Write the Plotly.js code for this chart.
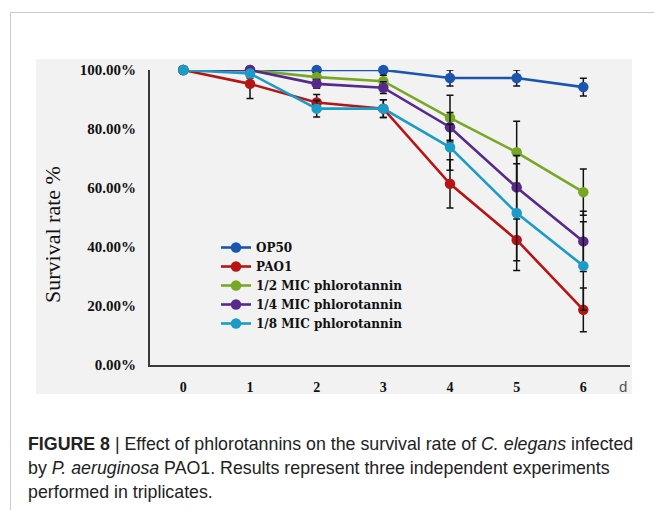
<!DOCTYPE html>
<html>
<head>
<meta charset="utf-8">
<script src="https://cdn.plot.ly/plotly-3.0.1.min.js"></script>
<style>
html,body{margin:0;padding:0;background:#fff;}
#wrap{position:relative;width:654px;height:510px;overflow:hidden;}
#chart{position:absolute;left:0;top:0;width:654px;height:510px;}
#frame{position:absolute;left:10px;top:12px;width:660px;height:520px;border-top:1.5px solid #c8c8c8;border-left:1.5px solid #c8c8c8;pointer-events:none;}
</style>
</head>
<body>
<div id="wrap"><div id="chart"></div><div id="frame"></div></div>
<script>
// Data (survival rate %, days 0-6)
const days = [0, 1, 2, 3, 4, 5, 6];
const dayLabels = ["0", "1", "2", "3", "4", "5", "6"];
const seriesNames = ["OP50", "PAO1", "1/2 MIC phlorotannin", "1/4 MIC phlorotannin", "1/8 MIC phlorotannin"];
const op50 = [100, 100, 100, 100, 97.3, 97.3, 94.2];
const op50Err = [0, 0, 0, 0, 2.7, 2.7, 3.0];
const pao1 = [100, 95.3, 89.0, 86.9, 61.4, 42.4, 18.7];
const pao1Err = [0, 5.0, 2.7, 3.0, 8.2, 7.1, 7.4];
const mic2 = [100, 100, 97.6, 96.2, 83.8, 72.1, 58.6];
const mic2Err = [0, 0, 1.5, 2.0, 7.6, 10.5, 7.8];
const mic4 = [100, 100, 95.3, 94.0, 80.6, 60.2, 41.9];
const mic4Err = [0, 0, 1.5, 2.0, 5.0, 8.0, 10.2];
const mic8 = [100, 98.8, 86.9, 86.9, 73.8, 51.5, 33.6];
const mic8Err = [0, 1.5, 2.8, 3.0, 7.8, 19.5, 15.0];
const yTickVals = [0, 20, 40, 60, 80, 100];
const yTickText = ["0.00%", "20.00%", "40.00%", "60.00%", "80.00%", "100.00%"];
const yTitle = "Survival rate %";
const xUnit = "d";
const captionLines = [
  "<b>FIGURE 8</b> | Effect of phlorotannins on the survival rate of <i>C. elegans</i> infected",
  "by <i>P. aeruginosa</i> PAO1. Results represent three independent experiments",
  "performed in triplicates."
];

const colors = ["#1a56b0", "#b81414", "#76a824", "#57298a", "#1b9cc7"];
const ys = [op50, pao1, mic2, mic4, mic8];
const errs = [op50Err, pao1Err, mic2Err, mic4Err, mic8Err];

const traces = ys.map((y, i) => ({
  type: "scatter",
  mode: "lines+markers",
  name: seriesNames[i],
  x: days,
  y: y,
  line: {color: colors[i], width: 2.6},
  marker: {color: colors[i], size: 10.5},
  error_y: {type: "data", array: errs[i], visible: true, color: "#111", thickness: 1.5, width: 3.5},
  cliponaxis: false
}));

// pixel helpers for paper coords (plot area: x 150..630, y 70..365)
const L = 150, R = 630, T = 70, B = 365;
const px = v => (v - L) / (R - L);
const py = v => (B - v) / (B - T);

const serif = "Liberation Serif, Times New Roman, serif";
const annotations = [
  {xref: "paper", yref: "paper", x: px(52), y: py(235), xanchor: "center", yanchor: "middle",
   text: yTitle, textangle: -90, showarrow: false,
   font: {family: serif, size: 22, color: "#111"}},
  {xref: "paper", yref: "paper", x: px(623), y: py(386), xanchor: "center", yanchor: "middle",
   text: xUnit, showarrow: false,
   font: {family: "Liberation Sans, Arial, sans-serif", size: 15, color: "#555"}}
];
const capY = [444, 468, 492];
captionLines.forEach((t, i) => annotations.push({
  xref: "paper", yref: "paper", x: px(26), y: py(capY[i]), xanchor: "left", yanchor: "middle",
  text: t, showarrow: false, align: "left",
  font: {family: "Liberation Sans, Arial, sans-serif", size: 17.8, color: "#222"}
}));

const layout = {
  width: 654, height: 510,
  margin: {l: L, r: 654 - R, t: T, b: 510 - B, pad: 0},
  paper_bgcolor: "#ffffff",
  plot_bgcolor: "rgba(0,0,0,0)",
  showlegend: true,
  legend: {x: px(216), y: py(233), xanchor: "left", yanchor: "top", bgcolor: "rgba(0,0,0,0)",
    font: {family: "DejaVu Serif, serif", size: 12, color: "#111", weight: "bold"},
    tracegroupgap: 0, itemwidth: 30},
  xaxis: {range: [-0.5, 6.7], tickvals: days, ticktext: dayLabels, showgrid: false, zeroline: false,
    showline: true, linecolor: "#3a3a3a", linewidth: 2, ticks: "", ticklabelstandoff: 8,
    tickfont: {family: serif, size: 14, color: "#111", weight: "bold"}},
  yaxis: {range: [0, 100], tickvals: yTickVals, ticktext: yTickText, showgrid: false, zeroline: false,
    showline: true, linecolor: "#3a3a3a", linewidth: 2, ticks: "", ticklabelstandoff: 9,
    tickfont: {family: serif, size: 15, color: "#111", weight: "bold"}},
  shapes: [
    {type: "rect", xref: "paper", yref: "paper", x0: px(36), x1: px(632), y0: py(394), y1: py(59),
     fillcolor: "#f2f2f2", line: {width: 0}, layer: "below"}
  ],
  annotations: annotations
};

Plotly.newPlot("chart", traces, layout, {displayModeBar: false, staticPlot: true});
</script>
</body>
</html>
